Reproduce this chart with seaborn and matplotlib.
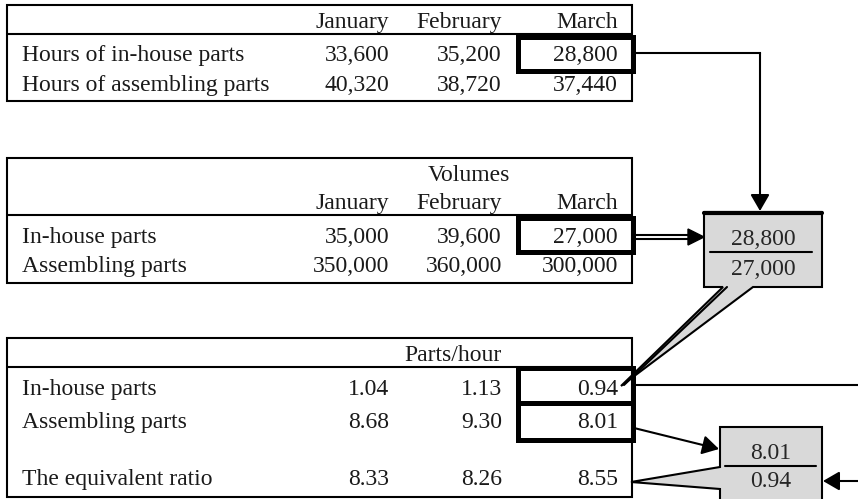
import matplotlib
matplotlib.use("Agg")
import matplotlib.pyplot as plt
import seaborn as sns
from matplotlib.patches import Polygon, Rectangle

# data
months = ["January", "February", "March"]

hours_labels = ["Hours of in-house parts", "Hours of assembling parts"]
hours_inhouse = [33600, 35200, 28800]
hours_assembling = [40320, 38720, 37440]

volume_labels = ["In-house parts", "Assembling parts"]
volume_inhouse = [35000, 39600, 27000]
volume_assembling = [350000, 360000, 300000]

rate_labels = ["In-house parts", "Assembling parts", "The equivalent ratio"]
rate_inhouse = [1.04, 1.13, 0.94]
rate_assembling = [8.68, 9.30, 8.01]
rate_ratio = [8.33, 8.26, 8.55]

sns.set_theme(style="white")
plt.rcParams["font.family"] = ["Liberation Serif", "DejaVu Serif"]

FS = 17
LW = 1.5
GREY = "#d9d9d9"
col_x = [389, 502, 618]   # right edges of the month columns
lab_x = 22
left, right = 7, 632

fig = plt.figure(figsize=(8.58, 4.99), dpi=100)
ax = fig.add_axes([0, 0, 1, 1])
ax.set_xlim(0, 858)
ax.set_ylim(499, 0)
ax.axis("off")


def table(top, head_line, bottom):
    ax.add_patch(Rectangle((left, top), right - left, bottom - top,
                           fill=False, lw=LW, ec="black"))
    ax.plot([left, right], [head_line, head_line], color="black", lw=LW)


def txt(x, y, s, ha="right"):
    ax.text(x, y, s, ha=ha, va="baseline", fontsize=FS, color="#1a1a1a")


def row(y, label, vals, fmt):
    txt(lab_x, y, label, ha="left")
    for cx, v in zip(col_x, vals):
        txt(cx, y, fmt.format(v))


def thick_box(y0, y1):
    ax.add_patch(Rectangle((518, y0), 115, y1 - y0, fill=False,
                           lw=3.6, ec="black", zorder=3))


# table 1 - hours
table(5, 34, 101)
for cx, m in zip(col_x, months):
    txt(cx, 28, m)
row(61, hours_labels[0], hours_inhouse, "{:,.0f}")
row(91, hours_labels[1], hours_assembling, "{:,.0f}")
thick_box(37, 71)

# table 2 - volumes
table(158, 215, 283)
txt(428, 181, "Volumes", ha="left")
for cx, m in zip(col_x, months):
    txt(cx, 209, m)
row(243, volume_labels[0], volume_inhouse, "{:,.0f}")
row(272, volume_labels[1], volume_assembling, "{:,.0f}")
thick_box(218, 252)

# table 3 - parts/hour
table(338, 367, 497)
txt(404, 361, "Parts/hour", ha="left")
row(395, rate_labels[0], rate_inhouse, "{:.2f}")
row(428, rate_labels[1], rate_assembling, "{:.2f}")
row(485, rate_labels[2], rate_ratio, "{:.2f}")
thick_box(368, 403)
thick_box(403, 440)

arrow = dict(arrowstyle="-|>,head_length=0.5,head_width=0.29",
             mutation_scale=20, color="black", lw=LW,
             shrinkA=0, shrinkB=0)

# callout 1: 28,800 / 27,000
c1 = Polygon([(704, 212), (822, 212), (822, 287), (753, 287), (621, 386),
              (723, 287), (704, 287)], closed=True, fc=GREY, ec="black",
             lw=LW, zorder=4)
ax.add_patch(c1)
ax.plot([704, 822], [213, 213], color="black", lw=3, zorder=5)
ax.plot([727, 624], [287, 385], color="black", lw=LW, zorder=5)
ax.text(763, 245, f"{hours_inhouse[2]:,.0f}", ha="center", va="baseline",
        fontsize=FS, zorder=6)
ax.plot([710, 812], [252, 252], color="black", lw=LW, zorder=6)
ax.text(763, 275, f"{volume_inhouse[2]:,.0f}", ha="center", va="baseline",
        fontsize=FS, zorder=6)

# arrow from 28,800 down to callout 1
ax.plot([634, 760], [53, 53], color="black", lw=LW, solid_capstyle="projecting")
ax.annotate("", xy=(760, 211), xytext=(760, 53), arrowprops=arrow)

# double arrow from 27,000 to callout 1
ax.plot([634, 692], [235, 235], color="black", lw=LW)
ax.plot([634, 692], [239, 239], color="black", lw=LW)
ax.add_patch(Polygon([(688, 229), (704, 237), (688, 245)], closed=True,
                     fc="black", ec="black", lw=1, zorder=5))

# line from 0.94 to the right edge
ax.plot([634, 858], [385, 385], color="black", lw=LW)

# callout 2: 8.01 / 0.94
c2 = Polygon([(720, 427), (822, 427), (822, 510), (720, 510), (720, 489),
              (631, 482), (720, 467)], closed=True, fc=GREY, ec="black",
             lw=LW, zorder=4)
ax.add_patch(c2)
ax.text(771, 459, f"{rate_assembling[2]:.2f}", ha="center", va="baseline",
        fontsize=FS, zorder=6)
ax.plot([725, 816], [466, 466], color="black", lw=LW, zorder=6)
ax.text(771, 487, f"{rate_inhouse[2]:.2f}", ha="center", va="baseline",
        fontsize=FS, zorder=6)

# arrow from 8.01 to callout 2
ax.annotate("", xy=(719, 449), xytext=(634, 428), arrowprops=arrow)
# arrow coming in from the right edge
ax.annotate("", xy=(823, 481), xytext=(860, 481), arrowprops=arrow)

fig.savefig("out.png", dpi=100)
